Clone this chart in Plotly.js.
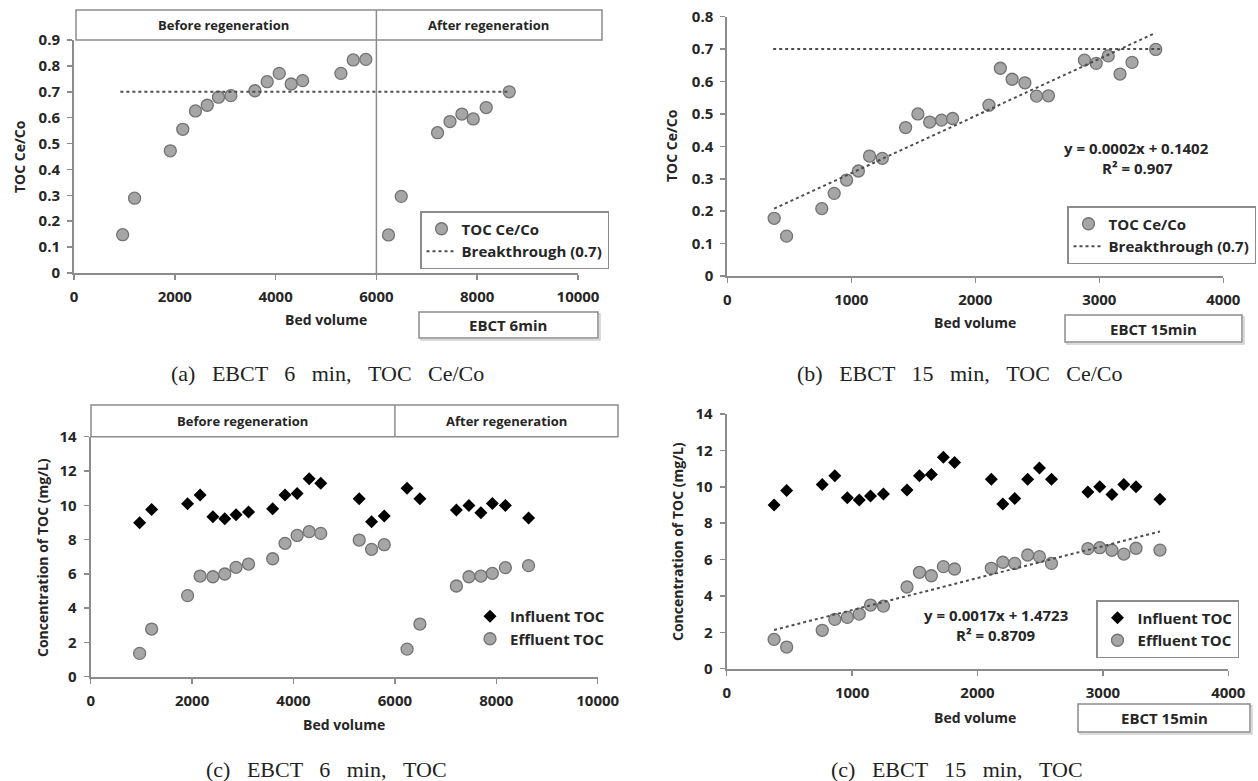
<!DOCTYPE html>
<html>
<head>
<meta charset="utf-8">
<script src="https://cdn.plot.ly/plotly-3.0.1.min.js"></script>
<style>html,body{margin:0;padding:0;background:#fff;}#chart{width:1258px;height:781px;}</style>
</head>
<body>
<div id="chart"></div>
<script>
// ---------------- DATA ----------------
// EBCT 6 min (panels a and c)
const bedVolume6 = [965,1202,1911,2158,2410,2644,2867,3113,3589,3833,4072,4309,4537,5296,5540,5790,6240,6493,7213,7460,7696,7922,8179,8636];
const ceco6 = [0.148,0.289,0.472,0.555,0.626,0.648,0.679,0.685,0.704,0.739,0.771,0.730,0.743,0.771,0.823,0.825,0.147,0.296,0.542,0.585,0.614,0.595,0.639,0.700];
const influent6 = [8.98,9.76,10.09,10.60,9.33,9.22,9.45,9.61,9.80,10.60,10.69,11.55,11.28,10.38,9.04,9.37,10.99,10.38,9.72,9.99,9.57,10.11,9.99,9.26];
const effluent6 = [1.36,2.78,4.73,5.87,5.83,5.99,6.38,6.57,6.88,7.78,8.24,8.46,8.36,7.97,7.43,7.70,1.61,3.07,5.29,5.83,5.87,6.03,6.36,6.48];
const breakX6 = [920, 8600];

// EBCT 15 min (panels b and d)
const bedVolume15 = [378,478,762,862,962,1057,1147,1250,1438,1537,1632,1728,1817,2110,2202,2297,2400,2494,2590,2880,2975,3072,3167,3264,3455];
const ceco15 = [0.178,0.123,0.208,0.255,0.296,0.324,0.370,0.363,0.458,0.500,0.475,0.481,0.486,0.527,0.641,0.607,0.596,0.555,0.556,0.666,0.656,0.679,0.623,0.659,0.699];
const influent15 = [9.00,9.79,10.13,10.61,9.40,9.27,9.49,9.60,9.82,10.61,10.68,11.62,11.34,10.41,9.05,9.36,10.41,11.03,10.41,9.71,10.00,9.58,10.13,10.00,9.31];
const effluent15 = [1.61,1.19,2.11,2.71,2.82,3.00,3.50,3.44,4.49,5.30,5.11,5.61,5.48,5.52,5.85,5.79,6.25,6.16,5.79,6.60,6.65,6.51,6.30,6.62,6.52];
const breakX15 = [370, 3500];

const breakthroughLevel = 0.7;
const eqB = ["y = 0.0002x + 0.1402", "R\u00b2 = 0.907"];
const eqD = ["y = 0.0017x + 1.4723", "R\u00b2 = 0.8709"];
const headerLabels = ["Before regeneration", "After regeneration"];
const ebctLabels = ["EBCT 6min", "EBCT 15min"];
const captions = ["(a) EBCT 6 min, TOC Ce/Co", "(b) EBCT 15 min, TOC Ce/Co", "(c) EBCT 6 min, TOC", "(c) EBCT 15 min, TOC"];
const seriesNames = ["TOC Ce/Co", "Breakthrough (0.7)", "Influent TOC", "Effluent TOC"];
const regenerationAt = 6000;

// ---------------- HELPERS ----------------
const W = 1258, H = 781;
const px = x => x / W;
const py = y => 1 - y / H;
const dx = (a, b) => [px(a), px(b)];
const dy = (top, bot) => [py(bot), py(top)];

function linfit(x, y) {
  const n = x.length;
  let sx = 0, sy = 0, sxx = 0, sxy = 0;
  for (let i = 0; i < n; i++) { sx += x[i]; sy += y[i]; sxx += x[i]*x[i]; sxy += x[i]*y[i]; }
  const m = (n*sxy - sx*sy) / (n*sxx - sx*sx);
  const b = (sy - m*sx) / n;
  return {m, b};
}
function trendTrace(x, y, xa, ya) {
  const f = linfit(x, y);
  const xs = [Math.min(...x), Math.max(...x)];
  return {x: xs, y: xs.map(v => f.m*v + f.b), xaxis: xa, yaxis: ya, mode: 'lines',
    line: {color: '#4d4d4d', width: 2, dash: 'dot'}, showlegend: false, hoverinfo: 'skip'};
}

const circleMarker = {symbol: 'circle', size: 12, color: '#a6a6a6', line: {color: '#737373', width: 1.3}};
const diamondMarker = {symbol: 'diamond', size: 10, color: '#000000', line: {width: 0}};
const dotLine = {color: '#4d4d4d', width: 2, dash: 'dot'};

const traces = [
  // (a)
  {x: bedVolume6, y: ceco6, xaxis: 'x', yaxis: 'y', mode: 'markers', name: seriesNames[0], marker: circleMarker, legend: 'legend'},
  {x: breakX6, y: breakX6.map(() => breakthroughLevel), xaxis: 'x', yaxis: 'y', mode: 'lines', name: seriesNames[1], line: dotLine, legend: 'legend'},
  // (b)
  {x: bedVolume15, y: ceco15, xaxis: 'x2', yaxis: 'y2', mode: 'markers', name: seriesNames[0], marker: circleMarker, legend: 'legend2'},
  {x: breakX15, y: breakX15.map(() => breakthroughLevel), xaxis: 'x2', yaxis: 'y2', mode: 'lines', name: seriesNames[1], line: dotLine, legend: 'legend2'},
  trendTrace(bedVolume15, ceco15, 'x2', 'y2'),
  // (c)
  {x: bedVolume6, y: influent6, xaxis: 'x3', yaxis: 'y3', mode: 'markers', name: seriesNames[2], marker: diamondMarker, legend: 'legend3'},
  {x: bedVolume6, y: effluent6, xaxis: 'x3', yaxis: 'y3', mode: 'markers', name: seriesNames[3], marker: circleMarker, legend: 'legend3'},
  // (d)
  {x: bedVolume15, y: influent15, xaxis: 'x4', yaxis: 'y4', mode: 'markers', name: seriesNames[2], marker: diamondMarker, legend: 'legend4'},
  {x: bedVolume15, y: effluent15, xaxis: 'x4', yaxis: 'y4', mode: 'markers', name: seriesNames[3], marker: circleMarker, legend: 'legend4'},
  trendTrace(bedVolume15, effluent15, 'x4', 'y4')
];

const tickFont = {family: 'Open Sans', size: 15, weight: 700, color: '#262626'};
const axisBase = {showline: true, linecolor: '#8c8c8c', linewidth: 2, ticks: 'outside', ticklen: 5,
  tickcolor: '#8c8c8c', tickwidth: 1.5, showgrid: false, zeroline: false, tickfont: tickFont,
  ticklabelstandoff: 4, fixedrange: true};
const ax = o => Object.assign({}, axisBase, o);

const boldFont = (s) => ({family: 'Open Sans', size: s, weight: 700, color: '#262626'});
const legendBase = (x, y, border) => ({x: px(x), y: py(y), xanchor: 'left', yanchor: 'top',
  bgcolor: 'rgba(255,255,255,0)', bordercolor: border ? '#8c8c8c' : 'rgba(0,0,0,0)', borderwidth: border ? 1.5 : 0,
  font: boldFont(15), itemsizing: 'trace', tracegroupgap: 0});

const shapes = [];
const annotations = [];
function rect(x0, y0, x1, y1, shadow) {
  if (shadow) shapes.push({type: 'rect', xref: 'paper', yref: 'paper', x0: px(x0+2), x1: px(x1+2), y0: py(y0+2), y1: py(y1+2), line: {color: '#d0d0d0', width: 1.5}, fillcolor: 'rgba(0,0,0,0)'});
  shapes.push({type: 'rect', xref: 'paper', yref: 'paper', x0: px(x0), x1: px(x1), y0: py(y0), y1: py(y1), line: {color: '#8c8c8c', width: 1.5}, fillcolor: shadow ? '#ffffff' : 'rgba(0,0,0,0)'});
}
function vline(xref, xv, y0, y1) {
  shapes.push({type: 'line', xref: xref, yref: 'paper', x0: xv, x1: xv, y0: py(y0), y1: py(y1), line: {color: '#8c8c8c', width: 1.5}});
}
function text(x, y, t, font, angle) {
  annotations.push({xref: 'paper', yref: 'paper', x: px(x), y: py(y), text: t, showarrow: false,
    xanchor: 'center', yanchor: 'middle', font: font, textangle: angle || 0});
}

// headers
rect(76, 10, 602, 40);
vline('x', regenerationAt, 10, 273);
text(224, 25, headerLabels[0], boldFont(13));
text(488, 25, headerLabels[1], boldFont(13));
rect(91, 405, 618, 436.7);
vline('x3', regenerationAt, 405, 436.7);
text(242, 421, headerLabels[0], boldFont(13));
text(506, 421, headerLabels[1], boldFont(13));

// EBCT boxes
rect(419, 312, 598, 338, true);
text(508, 325, ebctLabels[0], boldFont(15));
rect(1065, 315, 1242, 342, true);
text(1153, 329, ebctLabels[1], boldFont(15));
rect(1078, 704, 1250, 732, true);
text(1164, 718, ebctLabels[1], boldFont(15));

// axis titles
text(20, 157, 'TOC Ce/Co', boldFont(14), -90);
text(672, 146, 'TOC Ce/Co', boldFont(14), -90);
text(42, 558, 'Concentration of TOC (mg/L)', boldFont(14), -90);
text(677, 542, 'Concentration of TOC (mg/L)', boldFont(14), -90);
text(326, 319, 'Bed volume', boldFont(14));
text(975, 322, 'Bed volume', boldFont(14));
text(344, 724, 'Bed volume', boldFont(14));
text(975, 717, 'Bed volume', boldFont(14));

// equations
text(1136, 148, eqB[0], boldFont(15));
text(1137, 168, eqB[1], boldFont(15));
text(996, 615, eqD[0], boldFont(15));
text(996, 635, eqD[1], boldFont(15));

// captions
const sp = s => s.replace(/ /g, ' \u00a0\u00a0');
const capFont = {family: 'Liberation Serif', size: 22, color: '#222222'};
text(327, 373, sp(captions[0]), capFont);
text(960, 373, sp(captions[1]), capFont);
text(326, 769, sp(captions[2]), capFont);
text(957, 769, sp(captions[3]), capFont);

const layout = {
  width: W, height: H, margin: {l: 0, r: 0, t: 0, b: 0},
  paper_bgcolor: '#ffffff', plot_bgcolor: 'rgba(0,0,0,0)',
  showlegend: true,
  xaxis: ax({domain: dx(74, 578), range: [0, 10000], dtick: 2000, tickformat: 'd', anchor: 'y'}),
  yaxis: ax({domain: dy(40, 273), range: [0, 0.9], dtick: 0.1, anchor: 'x'}),
  xaxis2: ax({domain: dx(727.3, 1223.3), range: [0, 4000], dtick: 1000, tickformat: 'd', anchor: 'y2'}),
  yaxis2: ax({domain: dy(16.7, 276), range: [0, 0.8], dtick: 0.1, anchor: 'x2'}),
  xaxis3: ax({domain: dx(90.7, 597.7), range: [0, 10000], dtick: 2000, tickformat: 'd', anchor: 'y3'}),
  yaxis3: ax({domain: dy(436.7, 676.7), range: [0, 14], dtick: 2, anchor: 'x3'}),
  xaxis4: ax({domain: dx(726.7, 1228.3), range: [0, 4000], dtick: 1000, tickformat: 'd', anchor: 'y4'}),
  yaxis4: ax({domain: dy(414, 668.7), range: [0, 14], dtick: 2, anchor: 'x4'}),
  legend: legendBase(420, 211, true),
  legend2: legendBase(1067, 206, true),
  legend3: legendBase(470, 600, false),
  legend4: legendBase(1096, 600, true),
  shapes: shapes,
  annotations: annotations
};

Plotly.newPlot('chart', traces, layout, {displayModeBar: false, staticPlot: true});
</script>
</body>
</html>
